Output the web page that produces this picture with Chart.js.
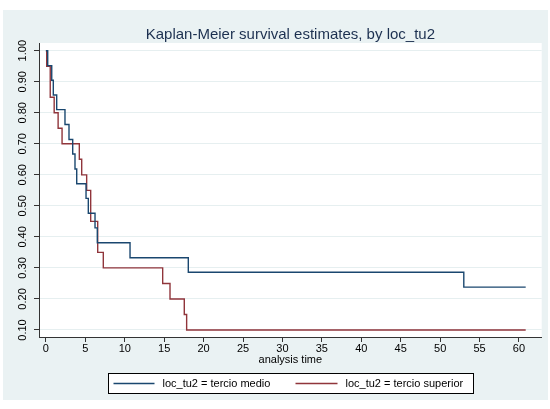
<!DOCTYPE html>
<html>
<head>
<meta charset="utf-8">
<script src="https://cdn.jsdelivr.net/npm/chart.js@4.4.1/dist/chart.umd.min.js"></script>
<style>
html,body{margin:0;padding:0;background:#ffffff;}
#wrap{width:550px;height:409px;position:relative;}
</style>
</head>
<body>
<div id="wrap"><canvas id="c" width="550" height="409"></canvas></div>
<script>
// ---- data ----
const titleText = 'Kaplan-Meier survival estimates, by loc_tu2';
const xAxisTitle = 'analysis time';
const seriesNames = ['loc_tu2 = tercio medio', 'loc_tu2 = tercio superior'];

const medioTimes = [0, 0.23, 0.74, 0.94, 1.37, 2.42, 2.93, 3.40, 3.69, 3.91, 5.09, 5.38, 6.23, 6.52, 10.67, 18.06, 53.0, 60.85];
const medioSurv  = [1, 0.952, 0.905, 0.857, 0.810, 0.762, 0.714, 0.667, 0.619, 0.571, 0.524, 0.476, 0.429, 0.381, 0.333, 0.286, 0.238, 0.238];

const superiorTimes = [0, 0.10, 0.55, 1.05, 1.55, 2.05, 4.24, 4.54, 5.17, 5.68, 6.57, 7.28, 14.81, 15.74, 17.55, 17.85, 60.85];
const superiorSurv  = [1, 0.95, 0.85, 0.80, 0.75, 0.70, 0.65, 0.60, 0.55, 0.45, 0.35, 0.30, 0.25, 0.20, 0.15, 0.10, 0.10];

const xTicks = [0, 5, 10, 15, 20, 25, 30, 35, 40, 45, 50, 55, 60];
const xTickLabels = ['0', '5', '10', '15', '20', '25', '30', '35', '40', '45', '50', '55', '60'];
const yTicks = [0.1, 0.2, 0.3, 0.4, 0.5, 0.6, 0.7, 0.8, 0.9, 1.0];
const yTickLabels = ['0.10', '0.20', '0.30', '0.40', '0.50', '0.60', '0.70', '0.80', '0.90', '1.00'];

// ---- styling ----
const FONT = 'Liberation Sans, Arial, sans-serif';
const BLUE = '#1a476f';
const RED = '#90353b';
const BG = '#eaf2f3';

const toPoints = (ts, ss) => ts.map((t, i) => ({x: t, y: ss[i]}));

const backgroundPlugin = {
  id: 'stataBg',
  beforeDraw(chart) {
    const ctx = chart.ctx;
    const a = chart.chartArea;
    ctx.save();
    ctx.fillStyle = '#ffffff';
    ctx.fillRect(0, 0, chart.width, chart.height);
    ctx.fillStyle = BG;
    ctx.fillRect(3, 10, 545, 390);
    ctx.fillStyle = '#ffffff';
    ctx.fillRect(a.left, a.top, a.right - a.left, a.bottom - a.top);
    ctx.restore();
  }
};

const decorPlugin = {
  id: 'stataDecor',
  afterDraw(chart) {
    const ctx = chart.ctx;
    const a = chart.chartArea;
    const cx = (a.left + a.right) / 2;
    ctx.save();
    // title
    ctx.fillStyle = '#1c3050';
    ctx.font = '15px ' + FONT;
    ctx.textAlign = 'center';
    ctx.textBaseline = 'middle';
    ctx.fillText(titleText, cx, 35);
    // legend box
    const lw = 365, lh = 20;
    const lx = Math.round(cx - lw / 2) + 0.5, ly = 373.5;
    ctx.fillStyle = '#ffffff';
    ctx.fillRect(lx, ly, lw, lh);
    ctx.strokeStyle = '#000000';
    ctx.lineWidth = 1;
    ctx.strokeRect(lx, ly, lw, lh);
    const my = ly + lh / 2;
    const items = [
      {color: BLUE, name: seriesNames[0], x0: lx + 5, x1: lx + 46, tx: lx + 54},
      {color: RED, name: seriesNames[1], x0: lx + 187, x1: lx + 229, tx: lx + 237}
    ];
    ctx.font = '11px ' + FONT;
    ctx.textAlign = 'left';
    items.forEach(it => {
      ctx.strokeStyle = it.color;
      ctx.lineWidth = 1.4;
      ctx.beginPath();
      ctx.moveTo(it.x0, my);
      ctx.lineTo(it.x1, my);
      ctx.stroke();
      ctx.fillStyle = '#000000';
      ctx.fillText(it.name, it.tx, my + 0.5);
    });
    ctx.restore();
  }
};

new Chart(document.getElementById('c'), {
  type: 'line',
  data: {
    datasets: [
      {
        label: seriesNames[0],
        data: toPoints(medioTimes, medioSurv),
        borderColor: BLUE,
        borderWidth: 1.4,
        pointRadius: 0,
        fill: false,
        stepped: 'before',
        tension: 0
      },
      {
        label: seriesNames[1],
        data: toPoints(superiorTimes, superiorSurv),
        borderColor: RED,
        borderWidth: 1.4,
        pointRadius: 0,
        fill: false,
        stepped: 'before',
        tension: 0
      }
    ]
  },
  options: {
    responsive: false,
    animation: false,
    devicePixelRatio: 1,
    layout: {padding: {left: 3, right: 8.3, top: 43, bottom: 42}},
    plugins: {
      legend: {display: false},
      title: {display: false},
      tooltip: {enabled: false}
    },
    scales: {
      x: {
        type: 'linear',
        position: 'bottom',
        min: -0.875,
        max: 62.88,
        bounds: 'data',
        afterBuildTicks: s => { s.ticks = xTicks.map(v => ({value: v})); },
        afterFit: s => { s.height = 30; },
        grid: {display: true, drawOnChartArea: false, drawTicks: true, tickLength: 5, tickColor: '#333333', tickWidth: 1},
        border: {display: true, color: '#333333', width: 1},
        ticks: {
          autoSkip: false, maxRotation: 0, minRotation: 0, padding: 0,
          color: '#000000', font: {family: FONT, size: 11},
          callback: (v, i) => xTickLabels[i]
        },
        title: {display: true, text: xAxisTitle, color: '#000000', font: {family: FONT, size: 11}, padding: {top: 0, bottom: 0}}
      },
      y: {
        type: 'linear',
        position: 'left',
        min: 0.0774,
        max: 1.0248,
        bounds: 'data',
        afterBuildTicks: s => { s.ticks = yTicks.map(v => ({value: v})); },
        afterFit: s => { s.width = 36; },
        grid: {display: true, drawOnChartArea: true, drawTicks: true, tickLength: 5, color: '#e6eff0', lineWidth: 1, tickColor: '#333333', tickWidth: 1},
        border: {display: true, color: '#333333', width: 1},
        ticks: {
          autoSkip: false, minRotation: 90, maxRotation: 90, padding: 0, crossAlign: 'center',
          color: '#000000', font: {family: FONT, size: 11},
          callback: (v, i) => yTickLabels[i]
        }
      }
    }
  },
  plugins: [backgroundPlugin, decorPlugin]
});
</script>
</body>
</html>
